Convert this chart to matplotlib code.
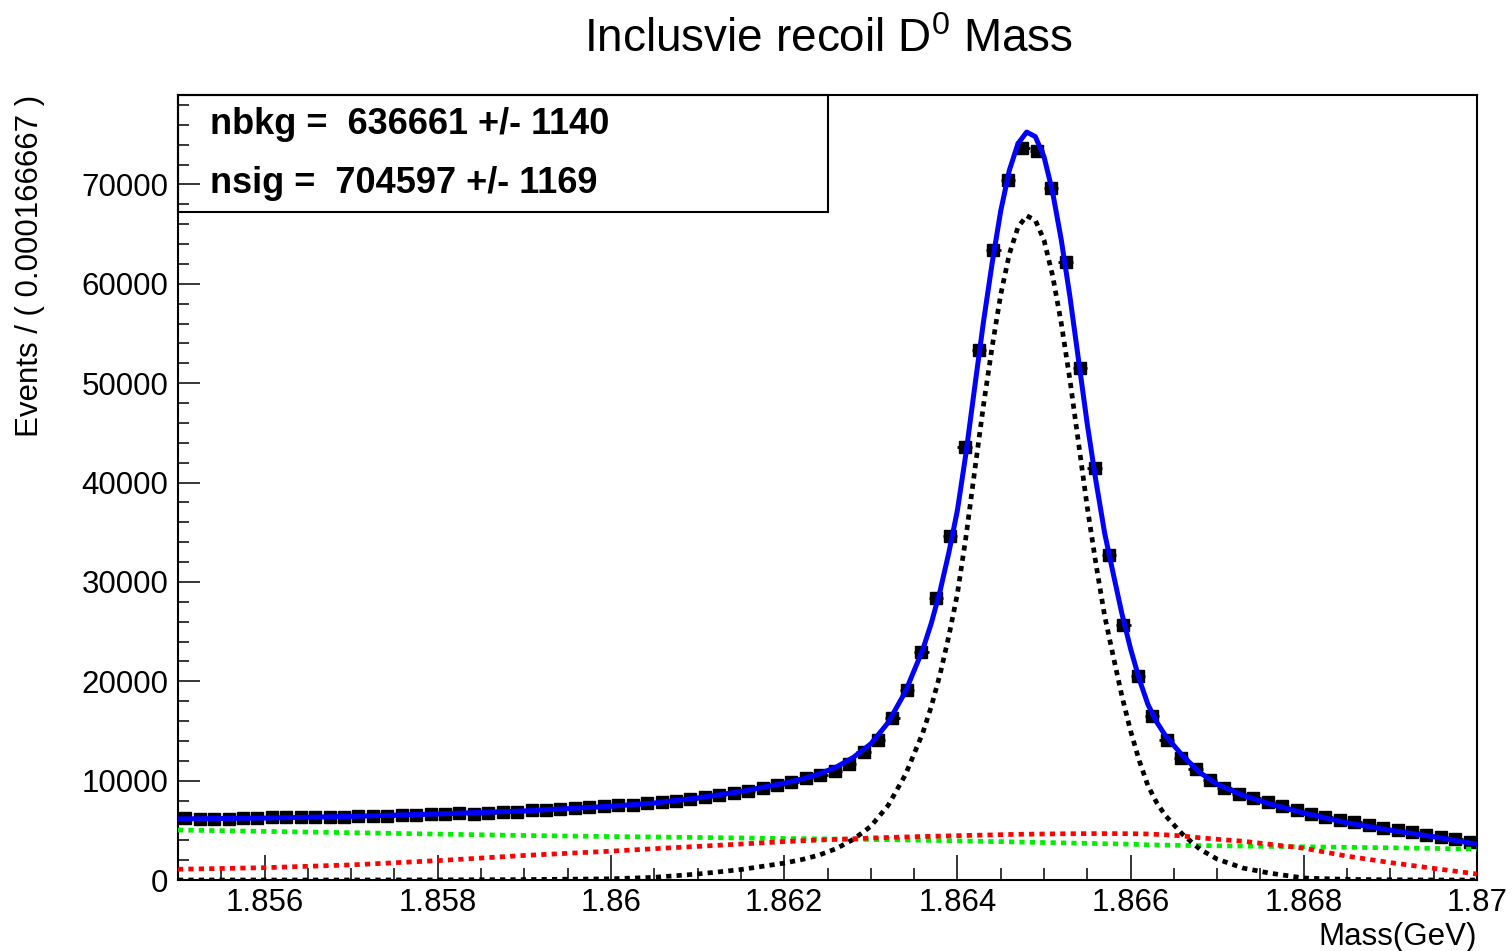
import matplotlib
matplotlib.use('Agg')
import matplotlib.pyplot as plt
import numpy as np
from matplotlib.patches import Rectangle
from matplotlib.ticker import MultipleLocator, FuncFormatter

plt.rcParams['font.family'] = ['Liberation Sans', 'DejaVu Sans']
plt.rcParams['mathtext.default'] = 'regular'

# binning of the data histogram
mass_lo = 1.855
mass_hi = 1.870
bin_width = 0.000166667

# events per bin
data_counts = [6200, 6150, 6180, 6160, 6200, 6230, 6300, 6350, 6320, 6300,
               6380, 6350, 6420, 6480, 6450, 6520, 6560, 6600, 6620, 6700,
               6680, 6780, 6820, 6850, 7000, 7050, 7180, 7230, 7350, 7400,
               7520, 7580, 7720, 7800, 8000, 8130, 8350, 8520, 8780, 8980,
               9300, 9580, 9900, 10280, 10600, 10950, 11700,
               12890, 14100, 16310, 19130, 22960, 28400, 34640, 43600, 53370,
               63440, 70490, 73710, 73410, 69680, 62230, 51560, 41490, 32730,
               25680, 20540, 16510, 14100, 12290,
               11200, 10100, 9300, 8650, 8250, 7800, 7400, 7000, 6650, 6350,
               6000, 5800, 5550, 5250, 5000, 4800, 4550, 4350, 4100, 3800]

# fitted curves (events per bin) sampled along the mass axis
curve_mass = [1.8550, 1.8560, 1.8570, 1.8580, 1.8590, 1.8600, 1.8605, 1.8610,
              1.8615, 1.8620, 1.8622, 1.8624, 1.8626, 1.8628, 1.8630, 1.8632,
              1.8634, 1.8636, 1.8637, 1.8638, 1.8639, 1.8640, 1.8641, 1.8642,
              1.8643, 1.8644, 1.8645, 1.8646, 1.8647, 1.8648, 1.8649, 1.8650,
              1.8651, 1.8652, 1.8653, 1.8654, 1.8655, 1.8656, 1.8657, 1.8658,
              1.8659, 1.8660, 1.8661, 1.8662, 1.8663, 1.8664, 1.8666, 1.8668,
              1.8670, 1.8673, 1.8676, 1.8680, 1.8685, 1.8690, 1.8695, 1.8700]
total_fit = [6150, 6230, 6400, 6650, 6950, 7420, 7750, 8260,
             8900, 9740, 10150, 10660, 11360, 12350, 13700, 15840,
             18960, 23180, 25885, 29090, 32895, 37200, 43000, 49610,
             56110, 62010, 67320, 71420, 74120, 75270, 74810, 72800,
             69200, 64390, 58675, 52260, 45855, 40140, 34920, 30810,
             26785, 23260, 20215, 17670, 15915, 14560, 12510, 10810,
             9640, 8510, 7680, 6740, 5750, 5010, 4350, 3600]
signal_pdf = [0, 0, 0, 10, 40, 120, 270, 600,
              1050, 1700, 2050, 2500, 3150, 4100, 5400, 7500,
              10600, 14800, 17500, 20700, 24500, 28800, 34600, 41200,
              47700, 53600, 58900, 63000, 65700, 66850, 66400, 64400,
              60800, 56000, 50300, 43900, 37500, 31800, 26600, 22500,
              18500, 15000, 12000, 9500, 7800, 6500, 4600, 3100,
              2100, 1200, 700, 200, 60, 20, 0, 0]
bkg_red = [1080, 1240, 1520, 1950, 2470, 2900, 3150, 3380,
           3620, 3860, 3940, 4020, 4090, 4150, 4220, 4280,
           4330, 4380, 4400, 4420, 4440, 4460, 4480, 4500,
           4520, 4540, 4560, 4580, 4600, 4610, 4620, 4630,
           4640, 4650, 4655, 4660, 4665, 4670, 4670, 4670,
           4665, 4660, 4645, 4630, 4590, 4550, 4430, 4250,
           4100, 3900, 3600, 3200, 2400, 1750, 1170, 600]
bkg_green = [5030, 4890, 4760, 4620, 4480, 4370, 4330, 4280,
             4230, 4180, 4160, 4140, 4120, 4100, 4080, 4060,
             4030, 4000, 3985, 3970, 3955, 3940, 3920, 3910,
             3890, 3870, 3860, 3840, 3820, 3810, 3790, 3770,
             3760, 3740, 3720, 3700, 3690, 3670, 3650, 3640,
             3620, 3600, 3570, 3540, 3525, 3510, 3480, 3460,
             3440, 3410, 3380, 3340, 3290, 3240, 3180, 3100]

fit_lines = ["nbkg =  636661 +/- 1140", "nsig =  704597 +/- 1169"]

W, H = 1512, 951
fig = plt.figure(figsize=(W / 100, H / 100), dpi=100)
ax = fig.add_axes([178 / W, 1 - 880 / H, (1477 - 178) / W, (880 - 95) / H])

counts = np.array(data_counts, dtype=float)
centers = mass_lo + (np.arange(len(counts)) + 0.5) * bin_width
ax.errorbar(centers, counts, yerr=np.sqrt(counts), xerr=bin_width / 2,
            fmt='s', color='black', ms=8.5, elinewidth=2, capsize=0, zorder=2)

dots = (0, (1.1, 1.1))
ax.plot(curve_mass, total_fit, color='#0000ff', lw=3.6, zorder=3)
ax.plot(curve_mass, bkg_green, color='#00ee00', lw=3.4, ls=dots, zorder=4)
ax.plot(curve_mass, signal_pdf, color='black', lw=3.4, ls=dots, zorder=4)
ax.plot(curve_mass, bkg_red, color='#ff0000', lw=3.4, ls=dots, zorder=5)

ax.set_xlim(mass_lo, mass_hi)
ax.set_ylim(0, 79000)

ax.xaxis.set_major_locator(MultipleLocator(0.002))
ax.xaxis.set_minor_locator(MultipleLocator(0.0005))
ax.yaxis.set_major_locator(MultipleLocator(10000))
ax.yaxis.set_minor_locator(MultipleLocator(2000))
ax.xaxis.set_major_formatter(FuncFormatter(lambda v, p: '%g' % round(v, 4)))
ax.yaxis.set_major_formatter(FuncFormatter(lambda v, p: '%d' % v))

ax.tick_params(axis='both', which='both', direction='in', top=False, right=False,
               width=1.1, labelsize=22.5)
ax.tick_params(axis='x', which='major', length=18, pad=6)
ax.tick_params(axis='x', which='minor', length=9)
ax.tick_params(axis='y', which='major', length=16, pad=7)
ax.tick_params(axis='y', which='minor', length=8)
for s in ax.spines.values():
    s.set_linewidth(1.5)

# parameter box
ax.add_patch(Rectangle((0, (880 - 212) / 785), (828 - 178) / 1299, (212 - 95) / 785,
                       transform=ax.transAxes, fill=False, lw=1.5, color='black',
                       zorder=6, clip_on=False))
for k, line in enumerate(fit_lines):
    ax.text((210 - 178) / 1299, (880 - 134 - 59 * k) / 785, line,
            transform=ax.transAxes, fontsize=26, fontweight='bold',
            ha='left', va='baseline', zorder=7)

fig.text(828 / W, 1 - 52 / H, r'Inclusvie recoil D$^{0}$ Mass', fontsize=33,
         ha='center', va='baseline')
fig.text(30 / W, 1 - 95 / H, 'Events / ( 0.000166667 )', fontsize=22.5,
         rotation=90, ha='center', va='top')
fig.text(1477 / W, 1 - 945 / H, 'Mass(GeV)', fontsize=22.5,
         ha='right', va='baseline')

fig.savefig('out.png', dpi=100)
